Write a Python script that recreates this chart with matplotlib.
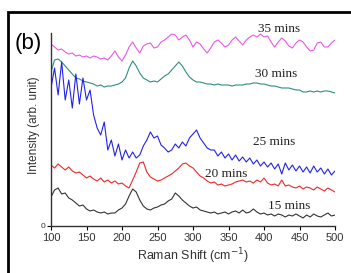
import numpy as np
import matplotlib
matplotlib.use("Agg")
import matplotlib.pyplot as plt
from matplotlib.patches import Rectangle

shift = np.arange(100, 501, 5)

int_35 = [182, 179, 176, 177, 174, 172, 173, 170, 171, 169, 170, 168, 170, 169, 167, 168, 166, 170, 175, 169,
          165, 171, 179, 184, 178, 173, 180, 182, 183, 178, 179, 184, 186, 189, 192, 191, 186, 189, 191, 186,
          179, 184, 182, 177, 173, 178, 184, 186, 183, 179, 181, 186, 189, 185, 181, 186, 189, 191, 189, 192,
          189, 190, 184, 179, 184, 188, 185, 180, 178, 183, 186, 184, 179, 175, 176, 183, 184, 179, 179, 183, 186]
int_30 = [154, 166, 167, 164, 160, 156, 152, 148, 147, 145, 144, 143, 142, 140, 141, 139, 140, 140, 141, 142,
          144, 148, 158, 165, 160, 153, 148, 146, 144, 145, 144, 147, 150, 152, 156, 160, 164, 160, 154, 149,
          146, 144, 144, 143, 142, 142, 141, 142, 141, 141, 141, 140, 141, 141, 141, 142, 142, 143, 143, 142,
          142, 141, 140, 140, 139, 138, 138, 138, 137, 136, 136, 134, 134, 135, 134, 135, 134, 135, 135, 134, 133]
int_25 = [138, 158, 131, 164, 126, 146, 118, 152, 122, 148, 126, 136, 111, 98, 91, 104, 76, 86, 70, 82,
          66, 76, 68, 74, 68, 71, 80, 86, 94, 88, 90, 81, 78, 74, 76, 82, 78, 84, 80, 88,
          92, 96, 88, 83, 78, 76, 76, 70, 74, 68, 72, 66, 71, 65, 69, 64, 68, 62, 66, 60,
          64, 59, 63, 57, 62, 52, 63, 56, 61, 55, 60, 54, 59, 53, 60, 54, 58, 52, 57, 51, 55]
int_20 = [61, 58, 62, 59, 56, 59, 55, 53, 54, 51, 48, 50, 47, 45, 48, 44, 46, 43, 45, 42,
          43, 40, 38, 46, 54, 63, 64, 54, 49, 47, 45, 46, 48, 50, 52, 55, 58, 62, 63, 60,
          58, 54, 50, 48, 45, 43, 44, 41, 42, 40, 41, 42, 44, 45, 46, 44, 45, 43, 46, 44,
          48, 43, 41, 42, 40, 46, 40, 41, 39, 38, 40, 37, 39, 38, 36, 39, 37, 35, 38, 36, 34]
int_15 = [29, 36, 38, 32, 33, 28, 26, 23, 20, 21, 17, 15, 16, 14, 13, 14, 12, 13, 13, 16,
          18, 22, 30, 37, 34, 26, 20, 17, 16, 18, 19, 21, 22, 25, 27, 33, 30, 26, 23, 20,
          18, 19, 16, 15, 14, 13, 14, 12, 13, 14, 12, 14, 15, 13, 16, 13, 14, 17, 14, 12,
          13, 11, 12, 10, 12, 11, 9, 11, 10, 12, 10, 8, 11, 9, 12, 10, 9, 11, 13, 10, 11]

series = [int_35, int_30, int_25, int_20, int_15]
colors = ["#ee55e8", "#2e8c84", "#2222ee", "#f02828", "#333333"]
labels = ["35 mins", "30 mins", "25 mins", "20 mins", "15 mins"]
label_pos = [(391, 194), (387, 149), (384, 81), (317, 49), (405, 17)]

fig = plt.figure(figsize=(3.51, 2.73), dpi=100)
ax = fig.add_axes([51 / 351, 47 / 273, 284 / 351, 193 / 273])

for vals, c in zip(series, colors):
    ax.plot(shift, vals, color=c, lw=0.8)

for lab, (x, y) in zip(labels, label_pos):
    ax.text(x, y, lab, family="Liberation Serif", fontsize=9.5, color="#222222",
            ha="left", va="baseline", clip_on=False)

ax.set_xlim(100, 500)
ax.set_ylim(0, 193)
ax.set_xticks(range(100, 501, 50))
ax.set_yticks([0])
ax.tick_params(axis="x", labelsize=8, length=3, width=0.8, pad=2)
ax.tick_params(axis="y", labelsize=6, length=3, width=0.8, pad=1)
for lab in ax.get_xticklabels() + ax.get_yticklabels():
    lab.set_family("Liberation Sans")
    lab.set_color("#333333")

for s in ["top", "right"]:
    ax.spines[s].set_visible(False)
for s in ["left", "bottom"]:
    ax.spines[s].set_color("#333333")
    ax.spines[s].set_linewidth(1)

ax.set_xlabel("Raman Shift (cm$^{-1}$)", family="Liberation Sans", fontsize=9, color="#333333")
ax.set_ylabel("Intensity (arb. unit)", family="Liberation Sans", fontsize=8.5, color="#333333")
ax.yaxis.set_label_coords(-0.04, 0.52)
ax.xaxis.set_label_coords(0.5, -0.105)

fig.text(15 / 351, 1 - 43 / 273, "(b)", family="Liberation Sans", fontsize=16,
         ha="left", va="center")

# frame round the panel
fig.patches.append(Rectangle((8 / 351, -0.1), 1.2, 1 - 12 / 273 + 0.1, fill=False,
                             lw=2, ec="black", transform=fig.transFigure, figure=fig))

plt.savefig("out.png", dpi=100)
